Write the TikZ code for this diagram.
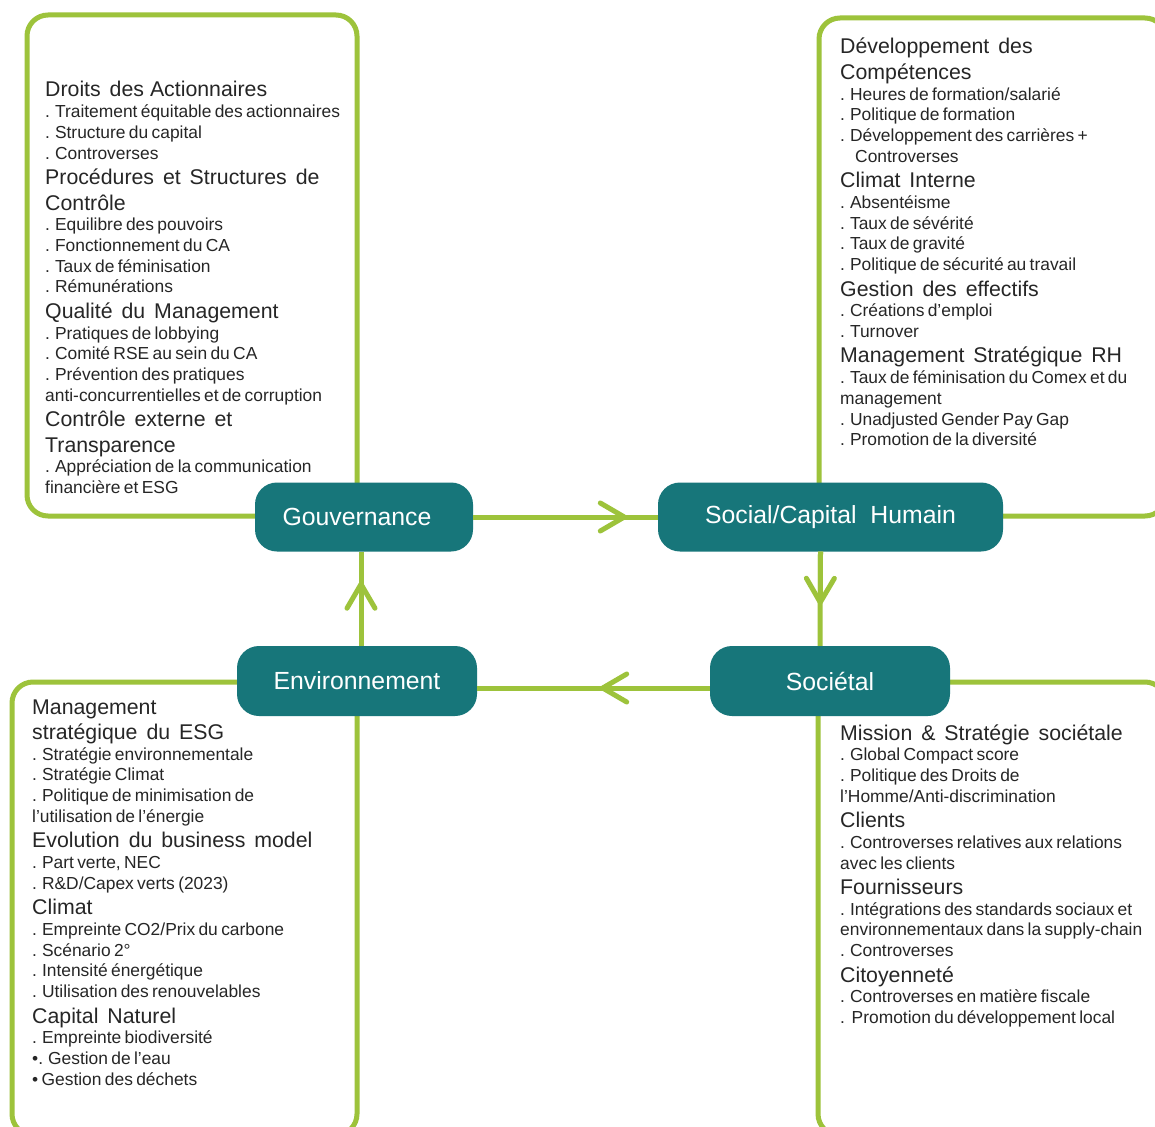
\documentclass[tikz,border=0pt]{standalone}
\usepackage{fontspec}
\setmainfont{Liberation Sans}
\usetikzlibrary{arrows.meta}
\definecolor{leaf}{HTML}{9DC33B}
\definecolor{tealbox}{HTML}{17767A}
\definecolor{ink}{HTML}{262626}
\newcommand\hdline[1]{{\fontsize{21.3}{25.5}\selectfont\spaceskip=0.42em plus 0.1em\relax #1\par}}
\newcommand\itline[1]{{\fontsize{17.4}{20.7}\selectfont #1\par}}
\begin{document}
\begin{tikzpicture}[x=1pt,y=-1pt,
  panel/.style={draw=leaf, line width=5pt, rounded corners=21pt},
  flow/.style={draw=leaf, line width=5pt},
  chev/.style={draw=leaf, line width=5pt, -{Straight Barb[length=24pt,width=28pt,round]}},
  pillar/.style={fill=tealbox, rounded corners=22pt, text=white, font=\fontsize{24.8}{28}\selectfont, inner sep=0pt},
  listtext/.style={anchor=base west, inner sep=0pt, align=left, text=ink, text width=#1}]
\useasboundingbox (0,0) rectangle (1155,1126);
\fill[white] (0,0) rectangle (1155,1126);
\clip (0,0) rectangle (1155,1126);

% panels
\draw[panel] (27,15) rectangle (357,516);
\draw[panel] (819,18) rectangle (1166,516);
\draw[panel] (12,682) rectangle (357,1135);
\draw[panel] (818,682) rectangle (1166,1135);

% pillars
\node[pillar, minimum width=218pt, minimum height=69pt] (gov) at (364,517) {\hspace*{-14pt}Gouvernance};
\node[pillar, minimum width=345pt, minimum height=69pt] (soc) at (830.5,517) {Social/Capital\ \ Humain};
\node[pillar, minimum width=240pt, minimum height=70pt] (env) at (357,681) {Environnement};
\node[pillar, minimum width=240pt, minimum height=70pt] (sct) at (830,681) {Sociétal};

% connectors
\draw[flow] (gov) -- (soc);
\draw[chev, shorten >=31pt] (gov) -- (soc);
\draw[flow] ([xshift=4pt]env.north) -- ([xshift=-3pt]gov.south);
\draw[chev, shorten >=30pt] ([xshift=4pt]env.north) -- ([xshift=-3pt]gov.south);
\draw[flow] ([xshift=-10pt]soc.south) -- ([xshift=-10pt]sct.north);
\draw[chev, shorten >=41pt] ([xshift=-10pt]soc.south) -- ([xshift=-10pt]sct.north);
\draw[flow] ([yshift=-7pt]sct.west) -- ([yshift=-7pt]env.east);
\draw[chev, shorten >=123pt] ([yshift=-7pt]sct.west) -- ([yshift=-7pt]env.east);

% texts
\node[listtext=310pt] (tltext) at (45,97) {%
\hdline{Droits des\kern-3pt\ Actionnaires}
\itline{. Traitement équitable des actionnaires}
\itline{. Structure du capital}
\itline{. Controverses}
\hdline{Procédures et Structures de}
\hdline{Contrôle}
\itline{. Equilibre des pouvoirs}
\itline{. Fonctionnement du CA}
\itline{. Taux de féminisation}
\itline{. Rémunérations}
\hdline{Qualité du Management}
\itline{. Pratiques de lobbying}
\itline{. Comité RSE au sein du CA}
\itline{. Prévention des pratiques}
\itline{anti-concurrentielles et de corruption}
\hdline{Contrôle externe et}
\hdline{Transparence}
\itline{. Appréciation de la communication}
\itline{financière et ESG}};

\node[listtext=315pt] (trtext) at (840,54) {%
\hdline{Développement des}
\hdline{Compétences}
\itline{. Heures de formation/salarié}
\itline{. Politique de formation}
\itline{. Développement des carrières +}
\itline{\hspace*{15pt}Controverses}
\hdline{Climat Interne}
\itline{. Absentéisme}
\itline{. Taux de sévérité}
\itline{. Taux de gravité}
\itline{. Politique de sécurité au travail}
\hdline{Gestion des effectifs}
\itline{. Créations d’emploi}
\itline{. Turnover}
\hdline{Management Stratégique RH}
\itline{. Taux de féminisation du Comex et du}
\itline{management}
\itline{. Unadjusted Gender Pay Gap}
\itline{. Promotion de la diversité}};

\node[listtext=315pt] (bltext) at (32,714) {%
\hdline{Management}
\hdline{stratégique du ESG}
\itline{. Stratégie environnementale}
\itline{. Stratégie Climat}
\itline{. Politique de minimisation de}
\itline{l’utilisation de l’énergie}
\hdline{Evolution du business model}
\itline{. Part verte, NEC}
\itline{. R\&D/Capex verts (2023)}
\hdline{Climat}
\itline{. Empreinte CO2/Prix du carbone}
\itline{. Scénario 2°}
\itline{. Intensité énergétique}
\itline{. Utilisation des renouvelables}
\hdline{Capital Naturel}
\itline{. Empreinte biodiversité}
\itline{•. Gestion de l’eau}
\itline{• Gestion des déchets}};

\node[listtext=315pt] (brtext) at (840,740) {%
\hdline{Mission \& Stratégie sociétale}
\itline{. Global Compact score}
\itline{. Politique des Droits de}
\itline{l’Homme/Anti-discrimination}
\hdline{Clients}
\itline{. Controverses relatives aux relations}
\itline{avec les clients}
\hdline{Fournisseurs}
\itline{. Intégrations des standards sociaux et}
\itline{environnementaux dans la supply-chain}
\itline{. Controverses}
\hdline{Citoyenneté}
\itline{. Controverses en matière fiscale}
\itline{.\ \ Promotion du développement local}};
\end{tikzpicture}
\end{document}
